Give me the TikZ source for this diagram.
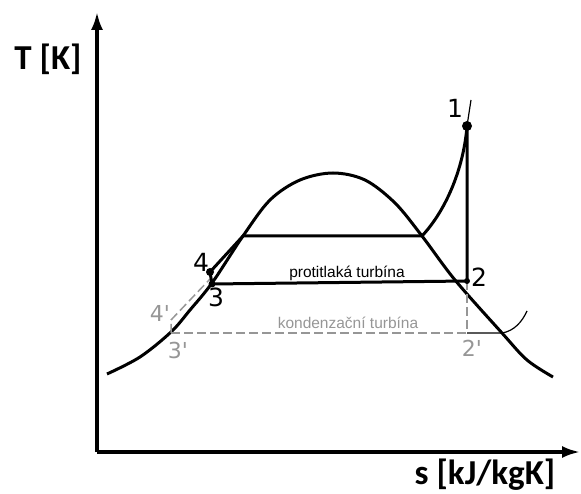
\documentclass[tikz,border=0pt]{standalone}
\usepackage{fontspec}
\setmainfont{Liberation Sans}
\newfontfamily\axisfont{Carlito}
\newfontfamily\numfont{DejaVu Sans}
\usetikzlibrary{arrows.meta,positioning}
\definecolor{dashgray}{RGB}{150,150,150}

\begin{document}
\begin{tikzpicture}[
x=1pt, y=-1pt,
axis/.style={line width=3.2pt, -{Latex[length=18pt,width=12pt]}},
main/.style={line width=3pt},
thinline/.style={line width=1.2pt},
dashline/.style={draw=dashgray, line width=1.5pt, dash pattern=on 9pt off 4pt},
axislbl/.style={font=\axisfont\bfseries\fontsize{35}{40}\selectfont, anchor=base, inner sep=0pt},
numlbl/.style={font=\numfont\fontsize{25}{28}\selectfont, anchor=base, inner sep=0pt},
graylbl/.style={font=\numfont\fontsize{22}{24}\selectfont, text=dashgray, anchor=base, inner sep=0pt},
txt/.style={font=\fontsize{15.5}{18}\selectfont, anchor=base, inner sep=0pt}
]
\useasboundingbox (0,0) rectangle (581,494);

% axes
\coordinate (O) at (97,452);
\coordinate (ytop) at (97,12);
\coordinate (xend) at (580,452);
\draw[axis] (O) -- (ytop);
\draw[axis] (O) -- (xend);
\node[axislbl] (tlbl) at (48,70) {T [K]};
\node[axislbl] (slbl) at (485,484) {s [kJ/kgK]};

% saturation curve
\draw[main] plot[smooth, tension=0.55] coordinates {(107,374) (140,357) (171,332) (190,310) (212,283) (243,236) (270,200) (300,180) (333,173) (365,180) (395,203) (422,236) (455,280) (502,333) (527,360) (553,377)};

% cycle points
\coordinate (p1) at (467,126);
\coordinate (p1top) at (471,100);
\coordinate (p2) at (467,281);
\coordinate (p3) at (212,284);
\coordinate (p4) at (210,272);
\coordinate (pa) at (243,236);
\coordinate (pb) at (422,236);
\coordinate (p2d) at (467,333);
\coordinate (p3d) at (171,333);
\coordinate (p4d) at (171,320);
\coordinate (p4e) at (210,279);
\coordinate (pc) at (502,333);
\coordinate (pcend) at (527,311);

% condensing turbine (dashed)
\draw[dashline] (p3d) -- (p4d) -- (p4e);
\draw[dashline] (p3d) -- (p2d);
\draw[dashline] (p2) -- (p2d);
\draw[thinline] (p2d) -- (pc) .. controls (514,331) and (522,322) .. (pcend);

% back-pressure turbine
\draw[main] (p3) -- (p4) -- (pa) -- (pb);
\draw[main] (pb) .. controls (448,208) and (464,165) .. (p1);
\draw[thinline] (p1) -- (p1top);
\draw[main] (p1) -- (p2) -- (p3);

\fill (p1) circle (5pt);
\fill (p2) circle (3pt);
\fill (p3) circle (3.5pt);
\fill (p4) circle (4pt);

% labels
\node[numlbl] (l1) at (455,118) {1};
\node[numlbl] (l2) at (479,287) {2};
\node[numlbl] (l3) at (216,307) {3};
\node[numlbl] (l4) at (201,272) {4};
\node[graylbl] (l2d) at (472,356) {2'};
\node[graylbl] (l3d) at (178,359) {3'};
\node[graylbl] (l4d) at (160,322) {4'};
\node[txt] (back) at (347,278) {protitlaká turbína};
\node[txt, text=dashgray] (cond) at (348,329) {kondenzační turbína};
\end{tikzpicture}
\end{document}
